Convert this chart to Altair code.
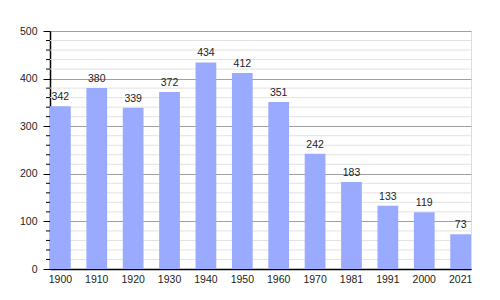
import altair as alt
import pandas as pd

years = ["1900", "1910", "1920", "1930", "1940", "1950", "1960", "1970", "1981", "1991", "2000", "2021"]
population = [342, 380, 339, 372, 434, 412, 351, 242, 183, 133, 119, 73]
major_ticks = [0, 100, 200, 300, 400, 500]
minor_ticks = [20, 40, 60, 80, 120, 140, 160, 180, 220, 240, 260, 280,
               320, 340, 360, 380, 420, 440, 460, 480]

df = pd.DataFrame({"year": years, "pop": population})
minor = pd.DataFrame({"v": minor_ticks})

font = "Liberation Sans"
FS = 10.5
W, H = 421, 238

yscale = alt.Scale(domain=[0, 500], nice=False)

x = alt.X("year:N", sort=None, title=None,
          scale=alt.Scale(paddingInner=0.43, paddingOuter=0),
          axis=alt.Axis(labelAngle=0, ticks=False, labelPadding=5, labelFontSize=FS,
                        labelFont=font, labelColor="#222", domainColor="#000", domainWidth=1.5))
y = alt.Y("pop:Q", title=None, scale=yscale,
          axis=alt.Axis(values=major_ticks, gridColor="#a0a0a0", tickSize=7,
                        tickColor="#000", domainColor="#000", domainWidth=1.5,
                        labelOverlap=False,
                        labelFontSize=FS, labelFont=font, labelColor="#222", labelPadding=6))

minor_grid = alt.Chart(minor).mark_rule(color="#e2e2e2", strokeWidth=1).encode(
    y=alt.Y("v:Q", scale=yscale), x=alt.value(0), x2=alt.value(W))
minor_tick = alt.Chart(minor).mark_rule(color="#000", strokeWidth=1).encode(
    y=alt.Y("v:Q", scale=yscale), x=alt.value(-4), x2=alt.value(0))

bars = alt.Chart(df).mark_bar(color="#99aaff").encode(x=x, y=y)
text = alt.Chart(df).mark_text(baseline="alphabetic", dy=-6, fontSize=FS, font=font, color="#222").encode(
    x=alt.X("year:N", sort=None), y=alt.Y("pop:Q"), text="pop:Q")

chart = alt.layer(minor_grid, bars, text, minor_tick).properties(
    width=W, height=H,
    autosize=alt.AutoSizeParams(type="none"),
    padding={"left": 50, "top": 31, "right": 29, "bottom": 31},
).configure_view(stroke=None).configure(background="white")

chart.save("out.html", embed_options={"renderer": "svg", "actions": False})
